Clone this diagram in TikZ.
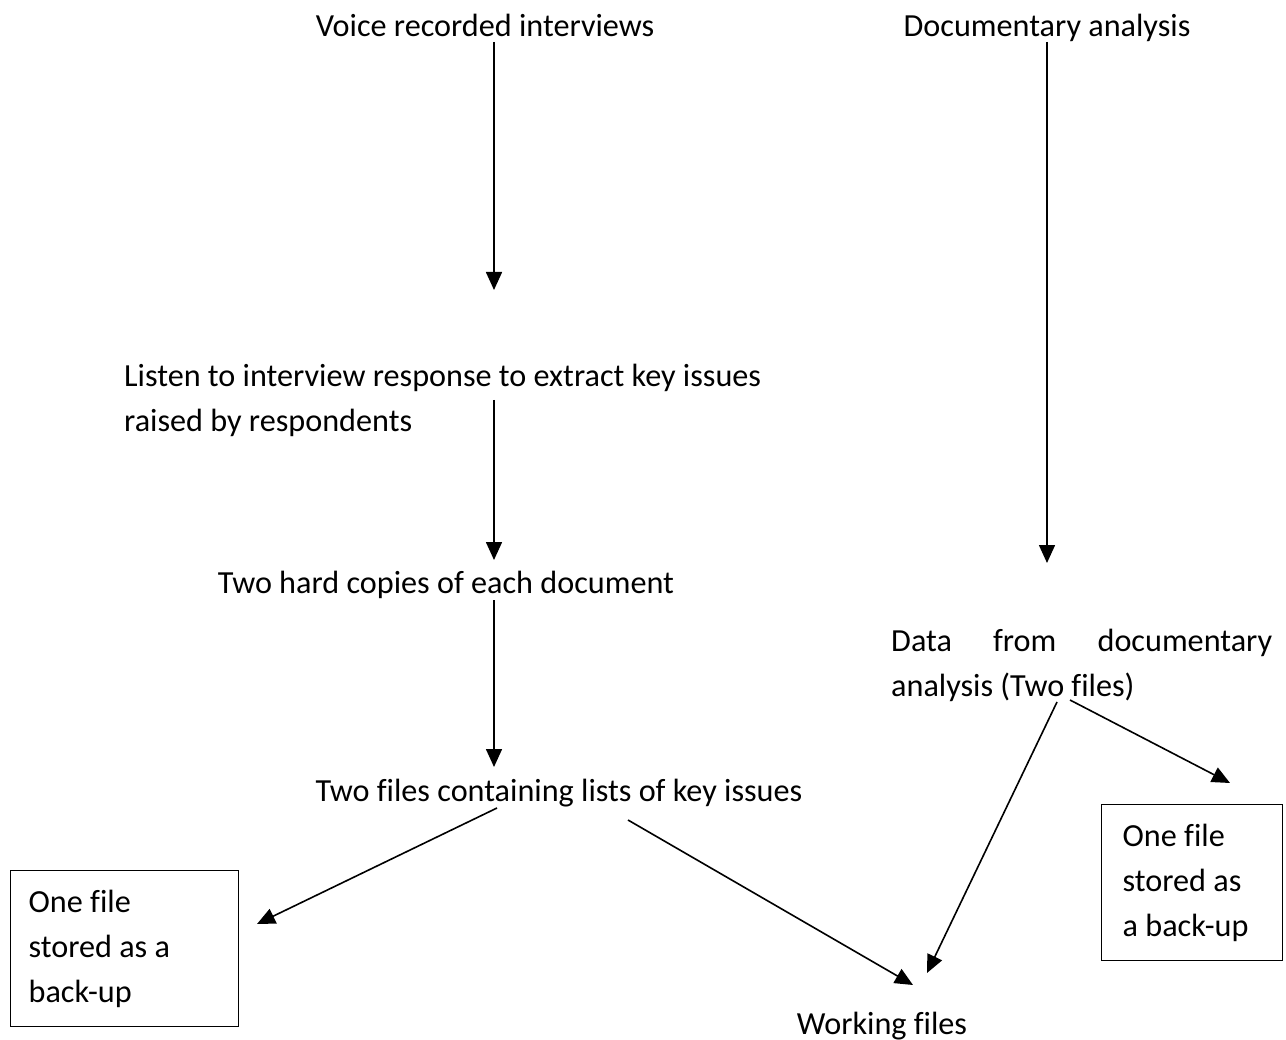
\documentclass[tikz,border=0pt]{standalone}
\usepackage{fontspec}
\setmainfont{Carlito}[Ligatures=NoCommon]
\usetikzlibrary{arrows.meta}
\tikzset{
  txt/.style={inner sep=0pt, font=\fontsize{32.2}{45}\selectfont},
  flow/.style={line width=1.6pt, -{Triangle[length=18pt,width=16pt]}},
  backup/.style={txt, draw, line width=1.3pt, anchor=north west, align=flush left, minimum height=156pt},
}
\begin{document}
\begin{tikzpicture}[x=1pt,y=-1pt]
	\useasboundingbox (0,0) rectangle (1286,1040);
	% left column
	\node[txt,anchor=base] (voice) at (485,37) {Voice recorded interviews};
	\node[txt,anchor=north west,align=flush left] (listen) at (124,364) {Listen to interview response to extract key issues\\raised by respondents};
	\node[txt,anchor=base] (hard) at (446,593) {Two hard copies of each document};
	\node[txt,anchor=base] (lists) at (559,801) {Two files containing lists of key issues};
	\node[backup,text width=192pt,inner xsep=18pt] (backL) at (10,870) {One file\\stored as a\\back-up};
	% right column
	\node[txt,anchor=base] (docs) at (1047,37) {Documentary analysis};
	\node[txt,anchor=north west,text width=381pt,align=flush left] (data) at (891,629) {\makebox[381pt][s]{Data from documentary}\\analysis (Two files)};
	\node[backup,text width=139pt,inner xsep=21pt] (backR) at (1101,804) {One file\\stored as\\a back-up};
	\node[txt,anchor=base] (work) at (882,1034) {Working files};
	% connector ends
	\coordinate (voiceOut) at (494,42);
	\coordinate (listenIn) at (494,290);
	\coordinate (docsOut) at (1047,42);
	\coordinate (dataIn) at (1047,563);
	\coordinate (listenOut) at (494,400);
	\coordinate (hardIn) at (494,560);
	\coordinate (hardOut) at (494,600);
	\coordinate (listsIn) at (494,767);
	\coordinate (listsOutL) at (497,808);
	\coordinate (backLIn) at (257,924);
	\coordinate (listsOutR) at (628,820);
	\coordinate (workInL) at (913,985);
	\coordinate (dataOutL) at (1057,702);
	\coordinate (workInR) at (927,973);
	\coordinate (dataOutR) at (1070,700);
	\coordinate (backRIn) at (1230,783);
	\draw[flow] (voiceOut) -- (listenIn);
	\draw[flow] (docsOut) -- (dataIn);
	\draw[flow] (listenOut) -- (hardIn);
	\draw[flow] (hardOut) -- (listsIn);
	\draw[flow] (listsOutL) -- (backLIn);
	\draw[flow] (listsOutR) -- (workInL);
	\draw[flow] (dataOutL) -- (workInR);
	\draw[flow] (dataOutR) -- (backRIn);
\end{tikzpicture}
\end{document}
